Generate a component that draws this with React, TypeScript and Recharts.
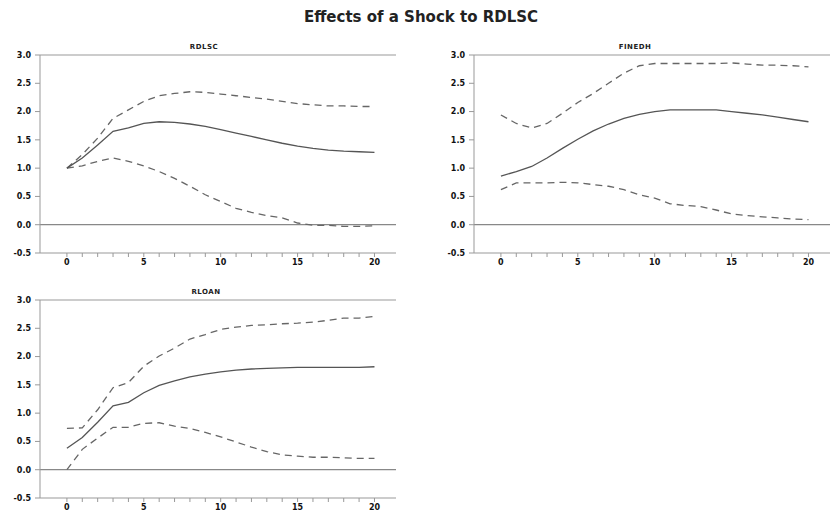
import { LineChart, Line, XAxis, YAxis, ReferenceLine } from 'recharts'

const horizons = [0, 1, 2, 3, 4, 5, 6, 7, 8, 9, 10, 11, 12, 13, 14, 15, 16, 17, 18, 19, 20]
const yTicks = [-0.5, 0, 0.5, 1, 1.5, 2, 2.5, 3]
const xTicks = [0, 1, 2, 3, 4, 5, 6, 7, 8, 9, 10, 11, 12, 13, 14, 15, 16, 17, 18, 19, 20]

// response of RDLSC
const rdlscResp = [1.0, 1.18, 1.41, 1.65, 1.71, 1.79, 1.82, 1.81, 1.78, 1.74, 1.68, 1.62, 1.56, 1.5, 1.44, 1.39, 1.35, 1.32, 1.3, 1.29, 1.28]
const rdlscUpper = [1.0, 1.24, 1.53, 1.88, 2.03, 2.18, 2.28, 2.32, 2.35, 2.34, 2.31, 2.28, 2.25, 2.22, 2.18, 2.14, 2.12, 2.1, 2.1, 2.09, 2.09]
const rdlscLower = [1.0, 1.04, 1.12, 1.18, 1.12, 1.04, 0.94, 0.82, 0.68, 0.53, 0.41, 0.29, 0.22, 0.16, 0.12, 0.03, -0.01, -0.01, -0.03, -0.03, -0.02]

// response of FINEDH
const finedhResp = [0.86, 0.94, 1.03, 1.18, 1.35, 1.51, 1.66, 1.78, 1.88, 1.95, 2.0, 2.03, 2.03, 2.03, 2.03, 2.0, 1.97, 1.94, 1.9, 1.86, 1.82]
const finedhUpper = [1.94, 1.79, 1.71, 1.79, 1.97, 2.16, 2.32, 2.5, 2.68, 2.81, 2.85, 2.85, 2.85, 2.85, 2.85, 2.86, 2.84, 2.82, 2.82, 2.81, 2.79]
const finedhLower = [0.62, 0.74, 0.74, 0.74, 0.75, 0.74, 0.71, 0.68, 0.62, 0.53, 0.47, 0.37, 0.34, 0.32, 0.26, 0.19, 0.16, 0.14, 0.12, 0.1, 0.09]

// response of RLOAN
const rloanResp = [0.38, 0.57, 0.84, 1.13, 1.19, 1.36, 1.49, 1.57, 1.64, 1.69, 1.73, 1.76, 1.78, 1.79, 1.8, 1.81, 1.81, 1.81, 1.81, 1.81, 1.82]
const rloanUpper = [0.73, 0.74, 1.06, 1.45, 1.54, 1.83, 2.01, 2.15, 2.31, 2.39, 2.48, 2.52, 2.55, 2.56, 2.58, 2.59, 2.61, 2.64, 2.68, 2.68, 2.71]
const rloanLower = [0.0, 0.36, 0.56, 0.75, 0.75, 0.82, 0.83, 0.77, 0.73, 0.66, 0.58, 0.49, 0.4, 0.32, 0.26, 0.24, 0.22, 0.22, 0.21, 0.2, 0.2]

const axisColor = '#999'
const tickStyle = { fontSize: 8, fontWeight: 700, fill: '#111', fontFamily: 'DejaVu Sans' }

function Panel({ title, resp, upper, lower, left, top, width, titleX }: {
  title: string
  resp: number[]
  upper: number[]
  lower: number[]
  left: number
  top: number
  width: number
  titleX: number
}) {
  const data = horizons.map((h, i) => ({ h, resp: resp[i], upper: upper[i], lower: lower[i] }))
  return (
    <>
      <div
        style={{
          position: 'absolute',
          left: titleX - 40,
          width: 80,
          top: top + 3,
          textAlign: 'center',
          fontFamily: 'DejaVu Sans',
          fontSize: 7,
          fontWeight: 700,
          color: '#222',
          letterSpacing: 0.5,
        }}
      >
        {title}
      </div>
      <div style={{ position: 'absolute', left, top }}>
        <LineChart width={width} height={240} data={data} margin={{ top: 15, right: 0, left: 0, bottom: 0 }}>
          <XAxis
            dataKey="h"
            type="number"
            domain={[-1.75, 21.4]}
            ticks={xTicks}
            interval={0}
            tickFormatter={(v: number) => (v % 5 === 0 ? String(v) : '')}
            tick={tickStyle}
            tickSize={4}
            tickMargin={2}
            height={27}
            stroke={axisColor}
          />
          <YAxis
            type="number"
            domain={[-0.5, 3]}
            ticks={yTicks}
            interval={0}
            tickFormatter={(v: number) => v.toFixed(1)}
            tick={tickStyle}
            tickSize={5}
            tickMargin={4}
            width={40}
            stroke={axisColor}
          />
          <ReferenceLine y={3} stroke={axisColor} strokeWidth={1.2} />
          <ReferenceLine y={0} stroke="#888" strokeWidth={1.2} />
          <Line dataKey="upper" stroke="#666" strokeWidth={1.3} strokeDasharray="7 5" dot={false} isAnimationActive={false} />
          <Line dataKey="lower" stroke="#666" strokeWidth={1.3} strokeDasharray="7 5" dot={false} isAnimationActive={false} />
          <Line dataKey="resp" stroke="#555" strokeWidth={1.3} dot={false} isAnimationActive={false} />
        </LineChart>
      </div>
    </>
  )
}

export default function App() {
  return (
    <div style={{ position: 'absolute', left: 0, top: 0, width: 830, height: 515, background: '#fff' }}>
      <div
        style={{
          position: 'absolute',
          left: 0,
          width: 842,
          top: 8,
          textAlign: 'center',
          fontFamily: 'DejaVu Sans',
          fontSize: 15,
          fontWeight: 700,
          color: '#222',
        }}
      >
        Effects of a Shock to RDLSC
      </div>
      <Panel title="RDLSC" resp={rdlscResp} upper={rdlscUpper} lower={rdlscLower} left={0} top={40} width={396} titleX={204} />
      <Panel title="FINEDH" resp={finedhResp} upper={finedhUpper} lower={finedhLower} left={434} top={40} width={396} titleX={635} />
      <Panel title="RLOAN" resp={rloanResp} upper={rloanUpper} lower={rloanLower} left={0} top={285} width={396} titleX={206} />
    </div>
  )
}
